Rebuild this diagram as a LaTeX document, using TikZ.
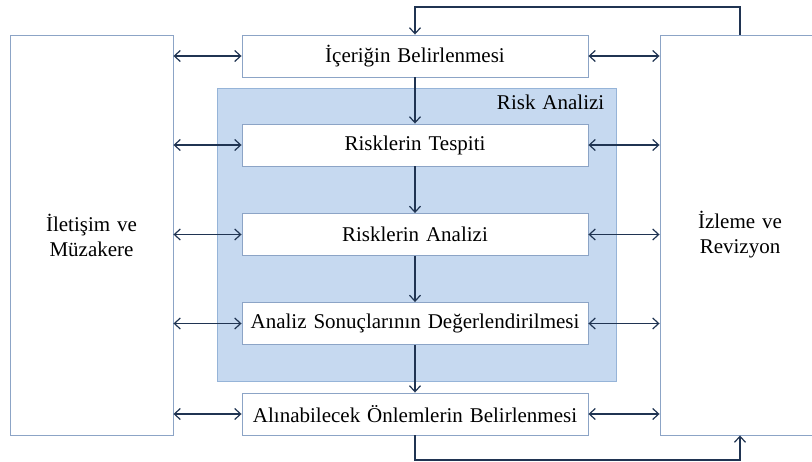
\documentclass[tikz,border=0pt]{standalone}
\usepackage{fontspec}
\setmainfont{Liberation Serif}
\usepackage{tikz}
\usetikzlibrary{arrows.meta, positioning, calc}
\definecolor{mynavy}{RGB}{32,52,82}
\definecolor{myedge}{RGB}{140,164,198}
\definecolor{riskfill}{RGB}{198,217,240}
\definecolor{riskedge}{RGB}{150,180,216}
\newcommand{\boxfont}{\fontsize{21}{25}\selectfont\spaceskip=0.33em plus 0.1em}
\tikzset{
  procbox/.style={rectangle, draw=myedge, fill=white, line width=0.9pt,
    minimum width=346pt, minimum height=42pt, inner sep=0pt,
    font=\boxfont},
  sidebox/.style={rectangle, draw=myedge, fill=white, line width=0.9pt,
    minimum height=400pt, inner sep=0pt, align=center,
    font=\boxfont},
  riskarea/.style={rectangle, draw=riskedge, fill=riskfill, line width=0.9pt,
    minimum width=399pt, minimum height=293pt, inner sep=0pt},
  arrow/.style={-{Straight Barb[length=6pt,width=11pt]}, line width=1.2pt, color=mynavy},
  dblarrow/.style={{Straight Barb[length=6pt,width=11pt]}-{Straight Barb[length=6pt,width=11pt]}, line width=1.2pt, color=mynavy},
  line/.style={line width=1.2pt, color=mynavy}
}

\begin{document}
\begin{tikzpicture}[x=1pt, y=-1pt]
  \useasboundingbox (0,0) rectangle (812,461);

  % Risk Analizi area
  \node[riskarea] (risk) at (416.5,234.5) {};
  \node[anchor=north east, font=\boxfont, inner sep=0pt]
    (risklbl) at ($(risk.north east)+(-12,7)$) {Risk Analizi};

  % side boxes
  \node[sidebox, minimum width=163pt] (ilet) at (91.5,235) {İletişim ve\\Müzakere};
  \node[sidebox, minimum width=160pt] (izle) at (740,235) {İzleme ve\\Revizyon};

  % process steps
  \node[procbox] (icerik) at (415,56) {İçeriğin Belirlenmesi};
  \node[procbox] (tespit) at (415,145) {Risklerin Tespiti};
  \node[procbox] (analiz) at (415,234.5) {Risklerin Analizi};
  \node[procbox] (deger) at (415,323.5) {Analiz Sonuçlarının Değerlendirilmesi};
  \node[procbox] (onlem) at (415,414) {Alınabilecek Önlemlerin Belirlenmesi};

  % flow between steps
  \draw[arrow] (icerik) -- (tespit);
  \draw[arrow] (tespit) -- (analiz);
  \draw[arrow] (analiz) -- (deger);
  \draw[arrow] (deger) -- (onlem);

  % links to the side boxes
  \foreach \s in {icerik, tespit, analiz, deger, onlem} {
    \draw[dblarrow] (ilet.east |- \s.west) -- (\s.west);
    \draw[dblarrow] (\s.east) -- (izle.west |- \s.east);
  }

  % feedback loops
  \coordinate (topy) at (0,7);
  \coordinate (boty) at (0,460);
  \draw[arrow] (izle.north) -- (izle.north |- topy) -- (icerik.north |- topy) -- (icerik.north);
  \draw[arrow] (onlem.south) -- (onlem.south |- boty) -- (izle.south |- boty) -- (izle.south);
\end{tikzpicture}
\end{document}
